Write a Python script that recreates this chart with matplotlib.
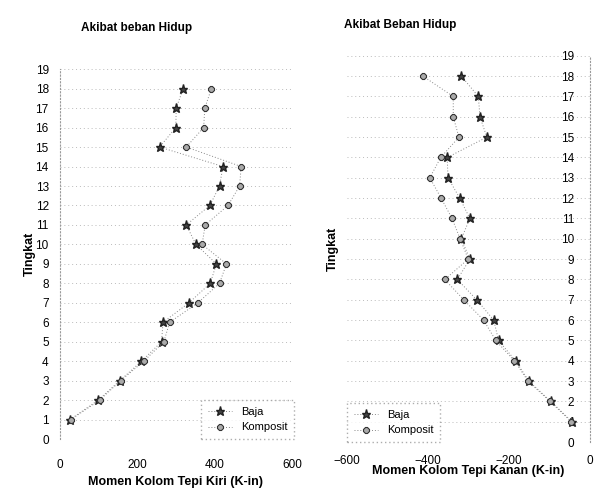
import matplotlib.pyplot as plt

plt.rcParams.update({
    "font.family": ["Liberation Sans", "DejaVu Sans"],
    "font.size": 8,
})

levels = list(range(1, 19))
kiri_baja = [26, 99, 155, 211, 263, 267, 334, 389, 405, 352, 327, 388, 413, 422, 258, 300, 301, 319]
kiri_komposit = [28, 103, 157, 217, 269, 284, 357, 413, 431, 368, 376, 435, 465, 469, 327, 372, 375, 392]
kanan_baja = [-43, -96, -150, -183, -225, -237, -279, -327, -296, -317, -296, -321, -350, -352, -254, -271, -275, -317]
kanan_komposit = [-45, -98, -152, -186, -232, -262, -311, -358, -300, -320, -340, -367, -395, -368, -323, -337, -337, -412]
yticks = list(range(0, 20))

fig = plt.figure(figsize=(5.98, 4.94), dpi=100)
ax1 = fig.add_axes([0.100, 0.111, 0.388, 0.749])
ax2 = fig.add_axes([0.580, 0.105, 0.406, 0.782])

grid_kw = dict(color="#bbbbbb", linestyle=(0, (1, 3)), linewidth=0.7)
line_kw = dict(color="#888888", linestyle=(0, (1, 2)), linewidth=0.7)
baja_kw = dict(marker="*", markersize=6.5, markerfacecolor="#444444", markeredgecolor="#222222")
komp_kw = dict(marker="8", markersize=5, markerfacecolor="#aaaaaa", markeredgecolor="#333333", markeredgewidth=0.8)


def style(ax):
    ax.set_yticks(yticks)
    ax.set_ylim(0, 19)
    ax.grid(axis="y", **grid_kw)
    ax.set_axisbelow(True)
    for sp in ax.spines.values():
        sp.set_visible(False)
    ax.tick_params(axis="both", length=0, labelsize=8.5)


def legend_box(leg):
    frame = leg.get_frame()
    frame.set_edgecolor("#999999")
    frame.set_linestyle((0, (1, 2)))
    frame.set_boxstyle("square", pad=0.2)


# left panel
ax1.plot(kiri_baja, levels, label="Baja", **line_kw, **baja_kw)
ax1.plot(kiri_komposit, levels, label="Komposit", **line_kw, **komp_kw)
style(ax1)
ax1.set_xlim(0, 600)
ax1.set_xticks([0, 200, 400, 600])
ax1.spines["left"].set_visible(True)
ax1.spines["left"].set_color("#999999")
ax1.spines["left"].set_linestyle((0, (1, 2)))
ax1.tick_params(axis="y", pad=8)
ax1.tick_params(axis="x", pad=14)
ax1.set_xlabel("Momen Kolom Tepi Kiri (K-in)", fontweight="bold", fontsize=9, labelpad=4)
ax1.set_ylabel("Tingkat", fontweight="bold", fontsize=9, labelpad=0)
ax1.set_title("Akibat beban Hidup", fontweight="bold", fontsize=8.5, x=0.33, y=1.08)
leg1 = ax1.legend(loc="lower right", frameon=True, fontsize=8, handlelength=2.2,
                  borderaxespad=0.2, bbox_to_anchor=(1.01, 0.0))
legend_box(leg1)

# right panel
ax2.plot(kanan_baja, levels, label="Baja", **line_kw, **baja_kw)
ax2.plot(kanan_komposit, levels, label="Komposit", **line_kw, **komp_kw)
style(ax2)
ax2.set_xlim(-600, 0)
ax2.set_xticks([-600, -400, -200, 0])
ax2.spines["right"].set_visible(True)
ax2.spines["right"].set_color("#999999")
ax2.spines["right"].set_linestyle((0, (1, 2)))
ax2.tick_params(axis="y", left=False, labelleft=False, right=True, labelright=True, pad=-11)
for lbl in ax2.get_yticklabels():
    lbl.set_ha("right")
ax2.tick_params(axis="x", pad=9)
ax2.set_xlabel("Momen Kolom Tepi Kanan (K-in)", fontweight="bold", fontsize=9, labelpad=-1)
ax2.set_ylabel("Tingkat", fontweight="bold", fontsize=9, labelpad=6)
ax2.yaxis.set_label_position("left")
ax2.set_title("Akibat Beban Hidup", fontweight="bold", fontsize=8.5, x=0.22, y=1.05)
leg2 = ax2.legend(loc="lower left", frameon=True, fontsize=8, handlelength=2.2,
                  borderaxespad=0.2, bbox_to_anchor=(0.0, 0.0))
legend_box(leg2)

fig.savefig("out.png", dpi=100)
